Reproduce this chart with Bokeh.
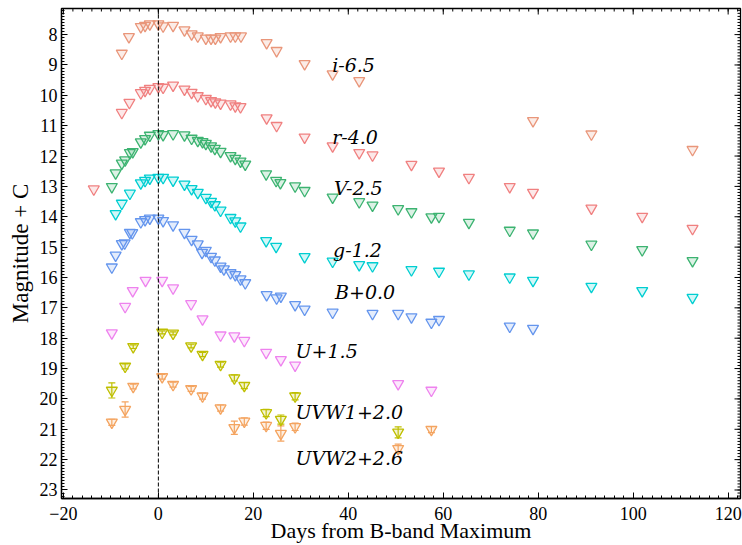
import numpy as np
from bokeh.plotting import figure
from bokeh.models import Range1d, Span, FixedTicker, ColumnDataSource, Whisker, TeeHead
from bokeh.core.properties import value
from bokeh.embed import file_html
from bokeh.resources import INLINE

# ---------------- data (days from B max, magnitude + offset) ----------------
i_day = [-7.7, -6.2, -3.7, -2.8, -1.8, 0.0, 1.0, 3.1, 5.5, 7.0, 8.3, 10.0, 11.1, 12.0, 13.1,
         15.2, 16.2, 17.4, 22.8, 24.9, 30.8, 36.7, 42.3, 78.9, 91.2, 112.5]
i_mag = [8.62, 8.07, 7.74, 7.70, 7.65, 7.65, 7.72, 7.70, 7.85, 7.98, 8.05, 8.12, 8.12, 8.12, 8.07,
         8.05, 8.05, 8.05, 8.27, 8.53, 8.96, 9.30, 9.52, 10.84, 11.28, 11.79]

r_day = [-13.6, -7.7, -6.1, -3.7, -2.8, -1.8, 0.0, 1.0, 3.1, 5.5, 7.0, 8.3, 10.0, 11.1, 12.0, 13.1,
         15.2, 16.2, 17.3, 22.8, 24.9, 30.8, 36.7, 42.3, 45.1, 53.3, 59.1, 65.4, 74.0, 78.9,
         91.2, 101.9, 112.5]
r_mag = [13.09, 10.57, 10.24, 9.92, 9.84, 9.78, 9.72, 9.74, 9.67, 9.80, 9.91, 10.02, 10.11, 10.18, 10.22, 10.26,
         10.29, 10.35, 10.38, 10.75, 11.00, 11.38, 11.67, 11.89, 11.97, 12.28, 12.50, 12.71, 13.01, 13.20,
         13.72, 13.99, 14.39]

V_day = [-9.8, -9.0, -7.7, -7.0, -6.0, -5.4, -3.7, -2.8, -1.8, 0.0, 1.0, 3.1, 5.5, 7.0, 8.3, 9.3,
         10.0, 11.1, 11.9, 13.1, 15.2, 16.2, 17.3, 18.3, 22.7, 24.8, 25.7, 28.8, 30.8, 36.7, 42.3,
         45.1, 50.5, 53.3, 57.5, 59.1, 65.4, 74.0, 78.9, 91.2, 101.9, 112.5]
V_mag = [13.01, 12.56, 12.24, 12.13, 11.89, 11.86, 11.54, 11.43, 11.32, 11.27, 11.30, 11.27, 11.31, 11.42, 11.49, 11.53,
         11.59, 11.67, 11.75, 11.85, 11.99, 12.08, 12.17, 12.27, 12.59, 12.81, 12.88, 12.99, 13.14, 13.36, 13.51,
         13.62, 13.74, 13.84, 14.01, 13.99, 14.19, 14.45, 14.54, 14.91, 15.09, 15.45]

g_day = [-9.0, -7.7, -6.0, -3.7, -2.8, -1.8, 0.0, 1.0, 3.1, 5.5, 7.0, 8.3, 10.0, 11.1, 11.9, 13.1,
         15.2, 16.2, 17.3, 22.7, 24.8, 30.8, 36.7, 42.3, 45.1, 53.3, 59.1, 65.4, 74.0, 78.9,
         91.2, 101.9, 112.5]
g_mag = [13.90, 13.56, 13.23, 12.89, 12.81, 12.73, 12.71, 12.71, 12.80, 12.93, 13.08, 13.20, 13.37, 13.50, 13.61, 13.79,
         14.03, 14.14, 14.31, 14.79, 14.98, 15.32, 15.47, 15.58, 15.62, 15.75, 15.80, 15.89, 15.99, 16.10,
         16.30, 16.44, 16.66]

B_day = [-9.8, -9.0, -7.7, -7.1, -6.0, -5.5, -3.7, -2.8, -1.8, 0.0, 1.0, 3.1, 5.5, 7.0, 8.3, 9.2,
         10.0, 11.1, 11.9, 13.1, 13.8, 15.2, 16.2, 17.3, 18.3, 22.8, 24.9, 25.8, 28.8, 30.8,
         36.7, 45.1, 50.5, 53.3, 57.5, 59.1, 74.0, 78.9]
B_mag = [15.66, 15.27, 14.89, 14.87, 14.52, 14.53, 14.17, 14.10, 14.05, 14.05, 14.13, 14.27, 14.52, 14.75, 14.90, 15.18,
         15.11, 15.31, 15.43, 15.63, 15.72, 15.85, 15.91, 16.05, 16.18, 16.57, 16.68, 16.62, 16.90, 17.05,
         17.15, 17.19, 17.19, 17.30, 17.48, 17.39, 17.61, 17.68]

U_day = [-9.8, -7.0, -5.4, -2.7, 0.8, 3.1, 6.9, 9.3, 13.1, 16.0, 18.1, 22.7, 25.8, 28.8, 50.5, 57.5]
U_mag = [17.83, 16.96, 16.44, 16.10, 16.10, 16.35, 16.87, 17.37, 17.90, 17.93, 18.08, 18.47, 18.71, 18.89, 19.50, 19.72]

UVW1_day = [-9.8, -7.0, -5.3, 0.8, 3.1, 6.9, 9.3, 13.1, 16.0, 18.1, 22.7, 25.8, 28.8, 50.5]
UVW1_mag = [19.72, 18.93, 18.28, 17.81, 17.84, 18.26, 18.54, 18.87, 19.31, 19.56, 20.46, 20.68, 19.91, 21.10]
UVW1_err = [0.25, 0.08, 0.06, 0.05, 0.05, 0.06, 0.07, 0.08, 0.10, 0.10, 0.12, 0.15, 0.12, 0.18]

UVW2_day = [-9.8, -7.0, -5.3, 0.8, 3.1, 6.9, 9.3, 13.1, 16.0, 18.1, 22.7, 25.8, 28.8, 50.5, 57.5]
UVW2_mag = [20.77, 20.35, 19.59, 19.27, 19.53, 19.67, 19.91, 20.30, 20.95, 20.74, 20.88, 21.14, 20.92, 21.64, 21.01]
UVW2_err = [0.10, 0.25, 0.08, 0.08, 0.08, 0.08, 0.10, 0.10, 0.22, 0.12, 0.12, 0.25, 0.12, 0.15, 0.10]

band_labels = ["i-6.5", "r-4.0", "V-2.5", "g-1.2", "B+0.0", "U+1.5", "UVW1+2.0", "UVW2+2.6"]
label_day = [36.6, 36.6, 37.0, 36.8, 37.2, 28.9, 28.9, 28.9]
label_mag = [9.0, 11.37, 13.05, 15.1, 16.47, 18.42, 20.44, 21.96]

bands = [
    ("i", i_day, i_mag, "#E9967A", None),
    ("r", r_day, r_mag, "#F08080", None),
    ("V", V_day, V_mag, "#3CB371", None),
    ("g", g_day, g_mag, "#00CED1", None),
    ("B", B_day, B_mag, "#6495ED", None),
    ("U", U_day, U_mag, "#EE82EE", None),
    ("UVW1", UVW1_day, UVW1_mag, "#BFBF00", UVW1_err),
    ("UVW2", UVW2_day, UVW2_mag, "#F4A460", UVW2_err),
]

x_lo, x_hi = -20.4, 122.6
y_lo, y_hi = 23.28, 7.14

# ---------------- figure ----------------
p = figure(width=742, height=545, output_backend="svg", toolbar_location=None,
           x_range=Range1d(x_lo, x_hi), y_range=Range1d(y_lo, y_hi),
           min_border_left=61, min_border_right=2, min_border_top=8, min_border_bottom=46,
           background_fill_color="white", border_fill_color="white")
p.grid.visible = False
p.outline_line_color = "black"
p.outline_line_width = 1.3

x_major = list(range(-20, 121, 20))
x_minor = list(range(-22, 125, 2))
y_major = list(range(8, 24))
y_minor = [round(7.1 + 0.1 * k, 1) for k in range(163)]

serif = "Liberation Serif"

def style_axis(ax):
    ax.axis_line_color = "black"
    ax.axis_line_width = 1.3
    ax.major_tick_in = 6
    ax.major_tick_out = 0
    ax.minor_tick_in = 3
    ax.minor_tick_out = 0
    ax.major_tick_line_color = "black"
    ax.minor_tick_line_color = "black"
    ax.major_label_text_font = serif
    ax.major_label_text_font_size = "18px"
    ax.major_label_text_color = "black"
    ax.axis_label_text_font = serif
    ax.axis_label_text_font_style = "normal"
    ax.axis_label_text_color = "black"

xb = p.xaxis[0]
xb.ticker = FixedTicker(ticks=x_major, minor_ticks=x_minor)
xb.axis_label = "Days from B-band Maximum"
style_axis(xb)
xb.axis_label_text_font_size = "22px"
xb.major_label_standoff = 8
xb.axis_label_standoff = -5

yl = p.yaxis[0]
yl.ticker = FixedTicker(ticks=y_major, minor_ticks=y_minor)
yl.axis_label = "Magnitude + C"
style_axis(yl)
yl.axis_label_text_font_size = "23px"
yl.major_label_standoff = 4
yl.axis_label_standoff = 4

# mirrored inward ticks on the top and right edges
top_major = [y_hi] * len(x_major)
top_minor = [y_hi] * len(x_minor)
right_major = [x_hi] * len(y_major)
right_minor = [x_hi] * len(y_minor)
p.ray(x=x_major, y=top_major, length=6, length_units="screen", angle=-np.pi / 2,
      line_color="black", line_width=1)
p.ray(x=x_minor, y=top_minor, length=3, length_units="screen", angle=-np.pi / 2,
      line_color="black", line_width=1)
p.ray(x=right_major, y=y_major, length=6, length_units="screen", angle=np.pi,
      line_color="black", line_width=1)
p.ray(x=right_minor, y=y_minor, length=3, length_units="screen", angle=np.pi,
      line_color="black", line_width=1)

p.add_layout(Span(location=0, dimension="height", line_color="black",
                  line_dash="4 2", line_width=1))

for name, d, m, col, err in bands:
    if err is not None:
        src = ColumnDataSource(dict(x=d, lo=[a - e for a, e in zip(m, err)],
                                    hi=[a + e for a, e in zip(m, err)]))
        w = Whisker(source=src, base="x", lower="lo", upper="hi", dimension="height",
                    line_color=col, line_width=1.2,
                    lower_head=TeeHead(size=7, line_color=col, line_width=1.2),
                    upper_head=TeeHead(size=7, line_color=col, line_width=1.2))
        p.add_layout(w)
    p.scatter(d, m, marker="inverted_triangle", size=11, line_color=col, line_width=1.3,
              fill_color=col, fill_alpha=0.18)

p.text(x=label_day, y=label_mag, text=band_labels, text_font=value("DejaVu Serif"),
       text_font_style="italic", text_font_size="19px", text_baseline="middle",
       text_align="left", text_color="black")

open("out.html", "w").write(file_html(p, INLINE))
